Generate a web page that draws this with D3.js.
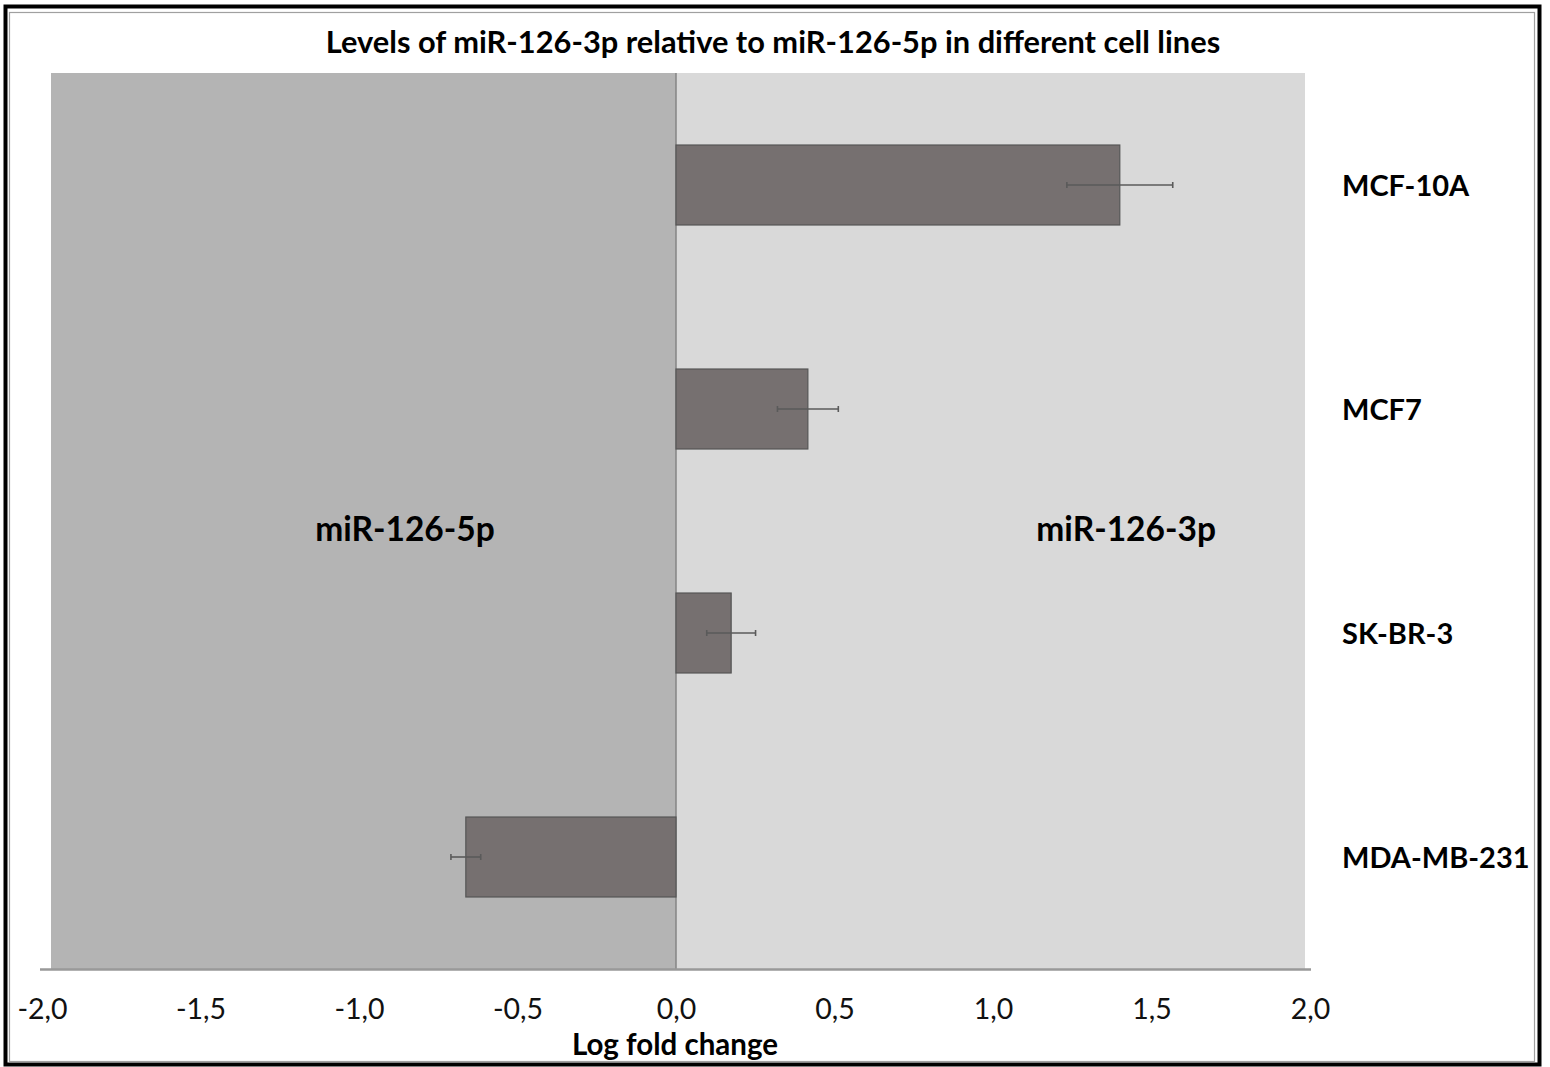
<!DOCTYPE html>
<html>
<head>
<meta charset="utf-8">
<script src="https://cdn.jsdelivr.net/npm/d3@7"></script>
<style>
  html, body { margin: 0; padding: 0; background: #fff; }
  svg { display: block; font-family: Lato, "Open Sans", sans-serif; }
</style>
</head>
<body>
<div class="BarChart"></div>
<script>
// data
const cellLines = ["MCF-10A", "MCF7", "SK-BR-3", "MDA-MB-231"];
const logFold = [1.40, 0.416, 0.174, -0.663];
const errors = [0.167, 0.096, 0.077, 0.047];
const tickValues = [-2, -1.5, -1, -0.5, 0, 0.5, 1, 1.5, 2];
const sideLabels = ["miR-126-5p", "miR-126-3p"];

const data = cellLines.map((name, i) => ({ name: name, value: logFold[i], err: errors[i] }));

const width = 1550, height = 1067;

const svg = d3.select(".BarChart")
  .append("svg")
  .attr("width", width)
  .attr("height", height);

// outer frame (double border)
svg.append("rect")
  .attr("x", 5.5).attr("y", 6.5)
  .attr("width", 1534).attr("height", 1058)
  .attr("fill", "#fff")
  .attr("stroke", "#000")
  .attr("stroke-width", 4);
svg.append("rect")
  .attr("x", 9.5).attr("y", 12.5)
  .attr("width", 1525).attr("height", 1049)
  .attr("fill", "none")
  .attr("stroke", "#a0a0a0")
  .attr("stroke-width", 1.2);

const x = d3.scaleLinear().domain([-2, 2]).range([42, 1310]);
const y = d3.scaleBand().domain(cellLines).range([73, 969])
  .paddingInner(0.643).paddingOuter(0.3215);

// plot area backgrounds: 5p side (left) darker, 3p side (right) lighter
svg.append("rect")
  .attr("x", 51).attr("y", 73)
  .attr("width", x(0) - 51).attr("height", 969 - 73)
  .attr("fill", "#b4b4b4");
svg.append("rect")
  .attr("x", x(0)).attr("y", 73)
  .attr("width", 1305 - x(0)).attr("height", 969 - 73)
  .attr("fill", "#d9d9d9");

// zero line
svg.append("line")
  .attr("x1", x(0)).attr("x2", x(0))
  .attr("y1", 73).attr("y2", 969)
  .attr("stroke", "#858585")
  .attr("stroke-width", 1.5);

// comma decimal like the original
const locale = d3.formatLocale({ decimal: ",", thousands: ".", grouping: [3], currency: ["", ""], minus: "-" });
const fmt = locale.format(".1f");

// x axis
const xAxis = svg.append("g")
  .attr("transform", "translate(0,969)")
  .call(d3.axisBottom(x).tickValues(tickValues).tickFormat(fmt).tickSize(0));
xAxis.select(".domain")
  .attr("d", "M40,0.5H1311")
  .attr("stroke", "#999")
  .attr("stroke-width", 2.5);
xAxis.selectAll("text")
  .attr("y", 50).attr("dy", null)
  .attr("font-family", "Lato, sans-serif")
  .attr("font-size", 28.5)
  .attr("fill", "#111");

// bars
svg.selectAll(".bar")
  .data(data)
  .enter()
  .append("rect")
  .attr("class", "bar")
  .attr("x", d => x(Math.min(0, d.value)))
  .attr("y", d => y(d.name))
  .attr("width", d => Math.abs(x(d.value) - x(0)))
  .attr("height", y.bandwidth())
  .attr("fill", "#767070")
  .attr("stroke", "#555")
  .attr("stroke-width", 1.2);

// error bars
const eb = svg.selectAll(".err")
  .data(data)
  .enter()
  .append("g")
  .attr("class", "err")
  .attr("stroke", "#5a5a5a")
  .attr("stroke-width", 1.6);
eb.append("line")
  .attr("x1", d => x(d.value - d.err))
  .attr("x2", d => x(d.value + d.err))
  .attr("y1", d => y(d.name) + y.bandwidth() / 2)
  .attr("y2", d => y(d.name) + y.bandwidth() / 2);
eb.append("line")
  .attr("x1", d => x(d.value - d.err))
  .attr("x2", d => x(d.value - d.err))
  .attr("y1", d => y(d.name) + y.bandwidth() / 2 - 3)
  .attr("y2", d => y(d.name) + y.bandwidth() / 2 + 3);
eb.append("line")
  .attr("x1", d => x(d.value + d.err))
  .attr("x2", d => x(d.value + d.err))
  .attr("y1", d => y(d.name) + y.bandwidth() / 2 - 3)
  .attr("y2", d => y(d.name) + y.bandwidth() / 2 + 3);

// category labels on the right
svg.selectAll(".cat")
  .data(cellLines)
  .enter()
  .append("text")
  .attr("class", "cat")
  .attr("x", 1342)
  .attr("y", d => y(d) + y.bandwidth() / 2 + 11)
  .attr("font-size", 29)
  .attr("font-weight", "bold")
  .attr("fill", "#000")
  .text(d => d);

// side labels
svg.append("text")
  .attr("x", x(-0.855)).attr("y", 541)
  .attr("text-anchor", "middle")
  .attr("font-size", 33.5).attr("font-weight", "bold").attr("fill", "#000")
  .text(sideLabels[0]);
svg.append("text")
  .attr("x", x(1.42)).attr("y", 541)
  .attr("text-anchor", "middle")
  .attr("font-size", 33.5).attr("font-weight", "bold").attr("fill", "#000")
  .text(sideLabels[1]);

// title
svg.append("text")
  .attr("x", 773).attr("y", 53)
  .attr("text-anchor", "middle")
  .attr("font-size", 30.8).attr("font-weight", "bold").attr("fill", "#000")
  .text("Levels of miR-126-3p relative to miR-126-5p in different cell lines");

// x axis label
svg.append("text")
  .attr("x", 675).attr("y", 1055)
  .attr("text-anchor", "middle")
  .attr("font-size", 29.5).attr("font-weight", "bold").attr("fill", "#000")
  .text("Log fold change");
</script>
</body>
</html>
